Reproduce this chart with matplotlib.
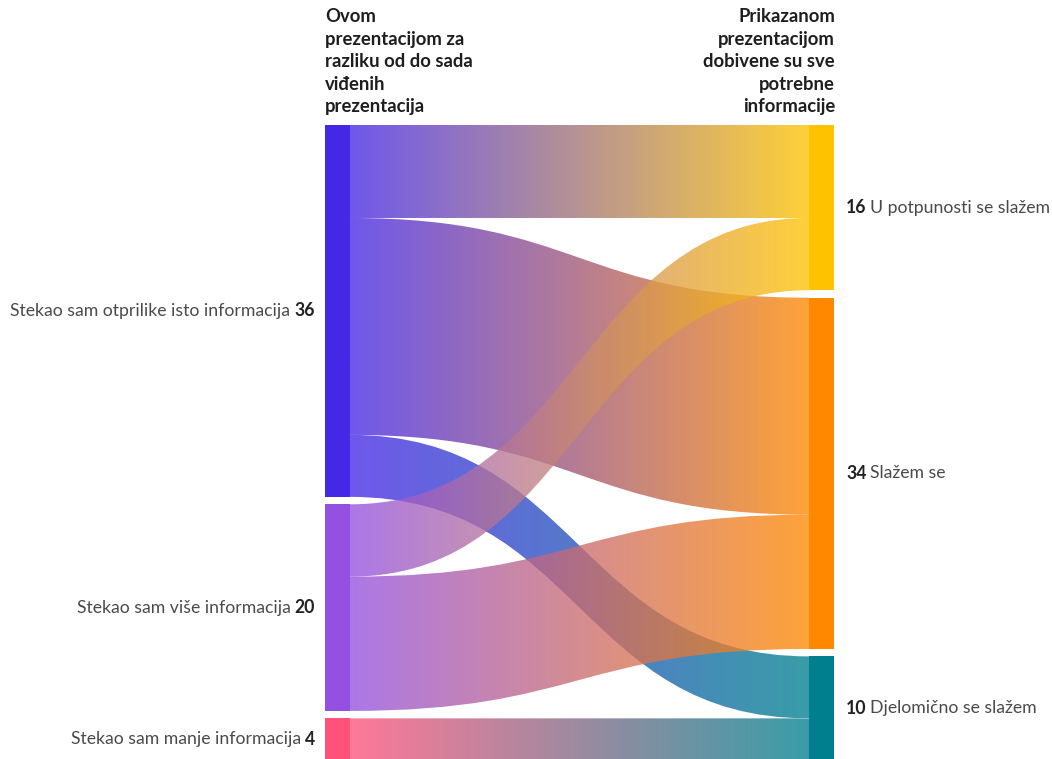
import numpy as np
import matplotlib
matplotlib.use("Agg")
import matplotlib.pyplot as plt
from matplotlib.path import Path
from matplotlib.patches import PathPatch, Rectangle
from matplotlib.colors import to_rgb

# data
sources = ["Stekao sam otprilike isto informacija", "Stekao sam više informacija",
           "Stekao sam manje informacija"]
targets = ["U potpunosti se slažem", "Slažem se", "Djelomično se slažem"]
# flows[source][target]
flows = [[9, 21, 6],
         [7, 13, 0],
         [0, 0, 4]]
source_colors = ["#4527e6", "#9450e0", "#ff527a"]
target_colors = ["#ffc200", "#ff8800", "#00808f"]
left_title = "Ovom\nprezentacijom za\nrazliku od do sada\nviđenih\nprezentacija"
right_title = "Prikazanom\nprezentacijom\ndobivene su sve\npotrebne\ninformacije"

plt.rcParams['font.family'] = ['Lato', 'DejaVu Sans']

W, H = 1052, 759
fig = plt.figure(figsize=(W / 100, H / 100), dpi=100)
ax = fig.add_axes([0, 0, 1, 1])
ax.axis('off')

px = 10.33          # pixels per respondent
top_px = 125
gap = 0.72
node_w = 25
xl, xr = 325, 809   # left edges of left / right node columns
link_alpha = 0.78

flows = np.array(flows)
src_tot = flows.sum(axis=1)
tgt_tot = flows.sum(axis=0)


def stack(totals):
    tops, y = [], 0.0
    for t in totals:
        tops.append(y)
        y += t + gap
    return tops


src_top = stack(src_tot)
tgt_top = stack(tgt_tot)

# node bars
for i, t in enumerate(src_tot):
    ax.add_patch(Rectangle((xl, src_top[i]), node_w, t, color=source_colors[i], lw=0, zorder=3))
for j, t in enumerate(tgt_tot):
    ax.add_patch(Rectangle((xr, tgt_top[j]), node_w, t, color=target_colors[j], lw=0, zorder=3))

# links
x0, x1 = xl + node_w, xr
xm = (x0 + x1) / 2
n = 256
for i in range(len(sources)):
    for j in range(len(targets)):
        v = flows[i, j]
        if v == 0:
            continue
        # left ordering by target, right ordering by source
        ys = sum(flows[i, :j]) + src_top[i]
        yt = sum(flows[:i, j]) + tgt_top[j]
        verts = [(x0, ys), (xm, ys), (xm, yt), (x1, yt),
                 (x1, yt + v), (xm, yt + v), (xm, ys + v), (x0, ys + v), (x0, ys)]
        codes = [Path.MOVETO, Path.CURVE4, Path.CURVE4, Path.CURVE4,
                 Path.LINETO, Path.CURVE4, Path.CURVE4, Path.CURVE4, Path.CLOSEPOLY]
        patch = PathPatch(Path(verts, codes), facecolor='none', edgecolor='none')
        ax.add_patch(patch)
        c0 = np.array(to_rgb(source_colors[i]))
        c1 = np.array(to_rgb(target_colors[j]))
        tt = np.linspace(0, 1, n)[:, None]
        grad = np.ones((1, n, 4))
        grad[0, :, :3] = c0 * (1 - tt) + c1 * tt
        grad[0, :, 3] = link_alpha
        lo, hi = min(ys, yt), max(ys, yt) + v
        im = ax.imshow(grad, extent=[x0, x1, hi, lo], aspect='auto',
                       interpolation='bilinear', zorder=2)
        im.set_clip_path(patch)

ax.set_xlim(0, W)
ax.set_ylim((H - top_px) / px, -top_px / px)

# labels
fs = 12.7
for i, name in enumerate(sources):
    yc = src_top[i] + src_tot[i] / 2
    num = ax.text(xl - 10, yc, str(src_tot[i]), ha='right', va='center',
                  fontsize=fs, fontweight='bold', color='#222222')
    ax.annotate(name, xy=(0, 0.5), xycoords=num, xytext=(-4, 0),
                textcoords='offset pixels', ha='right', va='center',
                fontsize=fs, color='#4a4a4a')
for j, name in enumerate(targets):
    yc = tgt_top[j] + tgt_tot[j] / 2
    num = ax.text(xr + node_w + 12, yc, str(tgt_tot[j]), ha='left', va='center',
                  fontsize=fs, fontweight='bold', color='#222222')
    ax.annotate(name, xy=(1, 0.5), xycoords=num, xytext=(4, 0),
                textcoords='offset pixels', ha='left', va='center',
                fontsize=fs, color='#4a4a4a')

fig.text(xl / W, 1 - 8 / H, left_title, ha='left', va='top', fontsize=13.3,
         fontweight='bold', color='#1e1e1e', linespacing=1.4)
fig.text((xr + node_w + 1) / W, 1 - 8 / H, right_title, ha='right', va='top',
         fontsize=13.3, fontweight='bold', color='#1e1e1e', linespacing=1.4,
         multialignment='right')

fig.savefig("out.png", dpi=100)
